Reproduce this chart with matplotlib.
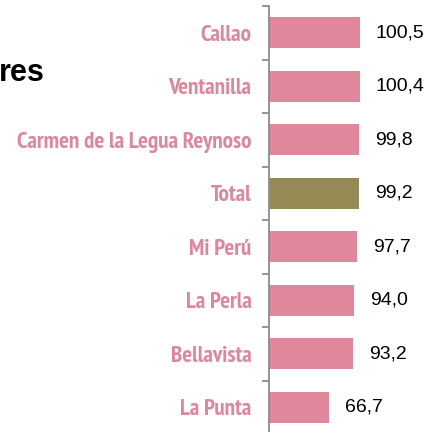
import matplotlib
matplotlib.use("Agg")
import matplotlib.pyplot as plt
from matplotlib import font_manager

names = {f.name for f in font_manager.fontManager.ttflist}
label_font = "PT Sans Narrow" if "PT Sans Narrow" in names else "Liberation Sans"

categories = ["Callao", "Ventanilla", "Carmen de la Legua Reynoso", "Total",
              "Mi Perú", "La Perla", "Bellavista", "La Punta"]
values = [100.5, 100.4, 99.8, 99.2, 97.7, 94.0, 93.2, 66.7]
highlight = "Total"
title_fragment = "res"

pink = "#E0879C"
olive = "#968A54"
label_pink = "#E0859A"

W, H = 429, 432
fig = plt.figure(figsize=(W / 100, H / 100), dpi=100)
ax = fig.add_axes([269 / W, (432 - 434) / H, (W - 269) / W, 428 / H])

ys = list(range(len(categories)))
colors = [olive if c == highlight else pink for c in categories]
ax.barh(ys, values, height=0.58, color=colors, zorder=2)
ax.set_ylim(len(categories) - 0.5, -0.5)
ax.set_xlim(0, 160 / 0.905)

for s in ["top", "right", "bottom"]:
    ax.spines[s].set_visible(False)
ax.spines["left"].set_color("#8C8C8C")
ax.spines["left"].set_linewidth(1.3)
ax.spines["left"].set_zorder(3)
ax.set_xticks([])
ax.set_yticks(ys)
ax.set_yticklabels(categories)
ax.tick_params(axis="y", which="major", length=0, pad=12.5)

# fit label size so the longest label spans ~237 px
renderer = fig.canvas.get_renderer()
probe = fig.text(0, 0, max(categories, key=len), fontfamily=label_font,
                 fontweight="bold", fontsize=14)
w = probe.get_window_extent(renderer).width
probe.remove()
label_size = 14 * 237 / w

for t in ax.get_yticklabels():
    t.set_fontfamily(label_font)
    t.set_fontweight("bold")
    t.set_fontsize(label_size)
    t.set_color(label_pink)
ax.set_yticks([i - 0.5 for i in range(len(categories) + 1)], minor=True)
ax.tick_params(axis="y", which="minor", length=5, width=1.3, color="#8C8C8C", direction="out")

for y, v in zip(ys, values):
    ax.annotate(f"{v:.1f}".replace(".", ","), xy=(v, y), xytext=(11.5, 0),
                textcoords="offset points", va="center", ha="left",
                fontsize=14, fontfamily="Liberation Sans", color="black")

fig.text(45 / W, 1 - 73 / H, title_fragment, ha="right", va="center",
         fontsize=22, fontweight="bold", fontfamily="Liberation Sans", color="black")

fig.savefig("out.png", dpi=100)
